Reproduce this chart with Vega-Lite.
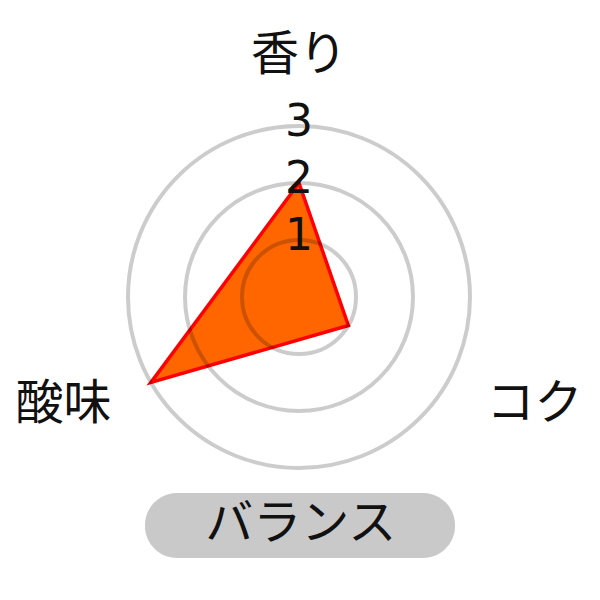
{
  "$schema": "https://vega.github.io/schema/vega-lite/v6.json",
  "width": 600,
  "height": 600,
  "padding": 0,
  "autosize": {"type": "fit", "contains": "padding"},
  "background": "white",
  "config": {
    "view": {"stroke": null},
    "axis": {"disable": true}
  },
  "datasets": {
    "scores": [
      {"item": "香り", "value": 2},
      {"item": "コク", "value": 1},
      {"item": "酸味", "value": 3}
    ],
    "rings": [
      {"tick": 1},
      {"tick": 2},
      {"tick": 3}
    ],
    "badge": [
      {"name": "バランス"}
    ]
  },
  "encoding": {
    "x": {"type": "quantitative", "scale": {"domain": [-5.2456, 5.2807], "nice": false, "zero": false}},
    "y": {"type": "quantitative", "scale": {"domain": [-5.3158, 5.2105], "nice": false, "zero": false}}
  },
  "layer": [
    {
      "data": {"name": "scores"},
      "transform": [
        {"window": [{"op": "row_number", "as": "idx"}]},
        {"calculate": "PI / 2 - (datum.idx - 1) * 2 * PI / 3", "as": "angle"},
        {"calculate": "datum.value * cos(datum.angle)", "as": "px"},
        {"calculate": "datum.value * sin(datum.angle)", "as": "py"}
      ],
      "mark": {
        "type": "line",
        "interpolate": "linear-closed",
        "fill": "#ff6600",
        "stroke": "#ff0000",
        "strokeWidth": 3.5,
        "strokeJoin": "miter"
      },
      "encoding": {
        "x": {"field": "px", "type": "quantitative"},
        "y": {"field": "py", "type": "quantitative"},
        "order": {"field": "idx", "type": "quantitative"}
      }
    },
    {
      "data": {"name": "rings"},
      "mark": {
        "type": "point",
        "shape": "circle",
        "filled": false,
        "stroke": "black",
        "strokeOpacity": 0.2,
        "strokeWidth": 4,
        "opacity": 1
      },
      "encoding": {
        "x": {"datum": 0, "type": "quantitative"},
        "y": {"datum": 0, "type": "quantitative"},
        "size": {
          "field": "tick",
          "type": "quantitative",
          "scale": {"type": "pow", "exponent": 2, "domain": [0, 3], "range": [0, 116964]},
          "legend": null
        }
      }
    },
    {
      "data": {"name": "rings"},
      "mark": {
        "type": "text",
        "font": "DejaVu Sans",
        "fontSize": 44,
        "color": "#111111",
        "align": "center",
        "baseline": "middle",
        "dy": -3
      },
      "encoding": {
        "x": {"datum": 0, "type": "quantitative"},
        "y": {"field": "tick", "type": "quantitative"},
        "text": {"field": "tick", "type": "quantitative"}
      }
    },
    {
      "data": {"name": "scores"},
      "transform": [
        {"window": [{"op": "row_number", "as": "idx"}]},
        {"calculate": "PI / 2 - (datum.idx - 1) * 2 * PI / 3", "as": "angle"},
        {"calculate": "3.8 * cos(datum.angle)", "as": "lx"},
        {"calculate": "3.8 * sin(datum.angle)", "as": "ly"}
      ],
      "mark": {
        "type": "text",
        "font": "Noto Sans CJK JP",
        "fontSize": 48,
        "color": "#111111",
        "align": {"expr": "datum.lx > 0.5 ? 'left' : datum.lx < -0.5 ? 'right' : 'center'"},
        "baseline": {"expr": "datum.ly > 0.5 ? 'bottom' : 'middle'"}
      },
      "encoding": {
        "x": {"field": "lx", "type": "quantitative"},
        "y": {"field": "ly", "type": "quantitative"},
        "text": {"field": "item", "type": "nominal"}
      }
    },
    {
      "data": {"name": "badge"},
      "mark": {"type": "rect", "fill": "#c9c9c9", "cornerRadius": 32},
      "encoding": {
        "x": {"datum": -2.702, "type": "quantitative"},
        "x2": {"datum": 2.737},
        "y": {"datum": -3.439, "type": "quantitative"},
        "y2": {"datum": -4.579}
      }
    },
    {
      "data": {"name": "badge"},
      "mark": {
        "type": "text",
        "font": "Noto Sans CJK JP",
        "fontSize": 48,
        "color": "#111111",
        "align": "center",
        "baseline": "middle"
      },
      "encoding": {
        "x": {"datum": 0.03, "type": "quantitative"},
        "y": {"datum": -4.0, "type": "quantitative"},
        "text": {"field": "name", "type": "nominal"}
      }
    }
  ]
}
